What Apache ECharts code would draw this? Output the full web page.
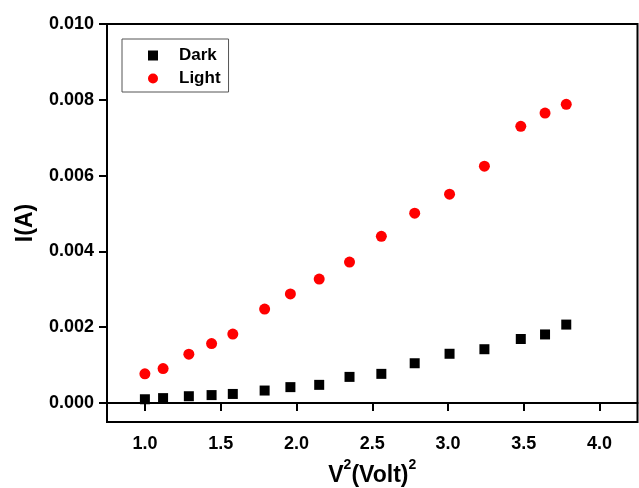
<!DOCTYPE html>
<html>
<head>
<meta charset="utf-8">
<script src="https://cdn.jsdelivr.net/npm/echarts@6/dist/echarts.min.js"></script>
<style>
  html, body { margin: 0; padding: 0; background: #fff; }
  #chart { width: 639px; height: 488px; }
</style>
</head>
<body>
<div id="chart"></div>
<script>
// V^2 values (same for both series)
const vSquared = [1.0, 1.12, 1.29, 1.44, 1.58, 1.79, 1.96, 2.15, 2.35, 2.56, 2.78, 3.01, 3.24, 3.48, 3.64, 3.78]
const darkCurrent = [0.00010, 0.00013, 0.00018, 0.00021, 0.00024, 0.00033, 0.00042, 0.00048,
  0.00069, 0.00077, 0.00105, 0.00130, 0.00142, 0.00169, 0.00181, 0.00207]
const lightCurrent = [0.00077, 0.00091, 0.00129, 0.00157, 0.00182, 0.00248, 0.00288, 0.00327,
  0.00372, 0.00440, 0.00501, 0.00551, 0.00625, 0.00730, 0.00765, 0.00788]
const xTicks = [1.0, 1.5, 2.0, 2.5, 3.0, 3.5, 4.0]
const yTicks = [0, 0.002, 0.004, 0.006, 0.008, 0.010]

const font = 'Liberation Sans, Arial, sans-serif'
const pair = (ys) => vSquared.map((x, i) => [x, ys[i]])

const chart = echarts.init(document.getElementById('chart'))
chart.setOption({
  animation: false,
  backgroundColor: '#fff',
  grid: {
    left: 107,
    right: 1.5,
    top: 24,
    bottom: 66,
    outerBoundsMode: 'none',
    show: true,
    borderColor: '#000',
    borderWidth: 2
  },
  legend: {
    orient: 'vertical',
    left: 122,
    top: 39,
    padding: [8, 8, 5, 26],
    itemGap: 6,
    itemWidth: 10,
    itemHeight: 10,
    borderColor: '#555',
    borderWidth: 1,
    textStyle: {
      fontFamily: font, fontWeight: 'bold', fontSize: 17, color: '#000',
      padding: [0, 0, 0, 16]
    },
    data: ['Dark', 'Light']
  },
  xAxis: {
    type: 'value',
    min: 0.75,
    max: 4.25,
    name: '{b|V}{s|2}{b|(Volt)}{s|2}',
    nameLocation: 'middle',
    nameGap: 39,
    nameTextStyle: {
      color: '#000',
      rich: {
        b: { fontFamily: font, fontWeight: 'bold', fontSize: 23, lineHeight: 23, color: '#000' },
        // superscript, lifted by bottom padding
        s: { fontFamily: font, fontWeight: 'bold', fontSize: 14, lineHeight: 14, color: '#000', padding: [0, 0, 22, 0] }
      }
    },
    axisLine: { lineStyle: { color: '#000', width: 2 } },
    axisTick: { length: 8, lineStyle: { width: 2, color: '#000' }, customValues: xTicks },
    axisLabel: {
      customValues: xTicks,
      margin: 13,
      fontFamily: font,
      fontWeight: 'bold',
      fontSize: 18,
      color: '#000',
      formatter: (v) => v.toFixed(1)
    },
    splitLine: { show: false }
  },
  yAxis: {
    type: 'value',
    min: -0.0005,
    max: 0.010,
    name: 'I(A)',
    nameLocation: 'middle',
    nameGap: 70,
    nameTextStyle: { fontFamily: font, fontWeight: 'bold', fontSize: 23, color: '#000' },
    axisLine: { lineStyle: { color: '#000', width: 2 } },
    axisTick: { length: 8, lineStyle: { width: 2, color: '#000' }, customValues: yTicks },
    axisLabel: {
      customValues: yTicks,
      margin: 13,
      fontFamily: font,
      fontWeight: 'bold',
      fontSize: 18,
      color: '#000',
      formatter: (v) => v.toFixed(3)
    },
    splitLine: { show: false }
  },
  series: [
    {
      name: 'Dark',
      type: 'scatter',
      symbol: 'rect',
      symbolSize: 10,
      itemStyle: { color: '#000', opacity: 1 },
      data: pair(darkCurrent)
    },
    {
      name: 'Light',
      type: 'scatter',
      symbol: 'circle',
      symbolSize: 11,
      itemStyle: { color: '#ff0000', opacity: 1 },
      data: pair(lightCurrent)
    }
  ]
})
</script>
</body>
</html>
